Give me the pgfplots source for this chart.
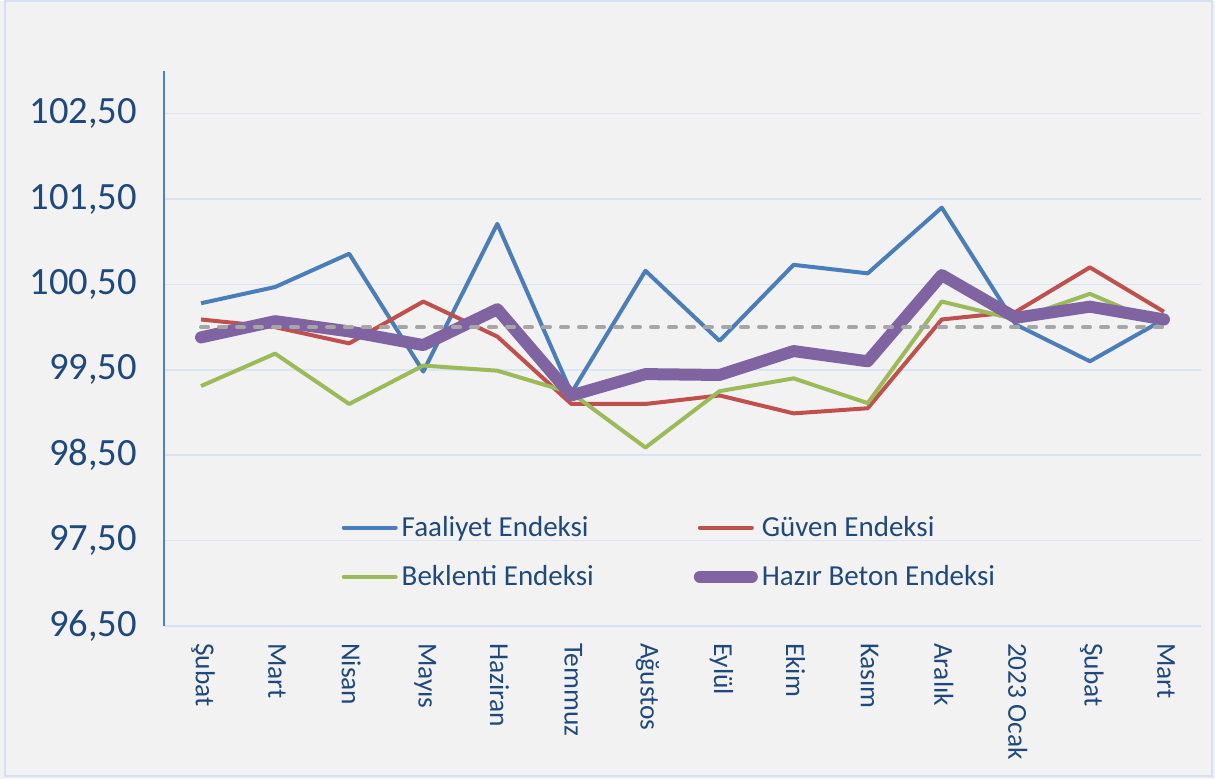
\documentclass[border=0pt]{standalone}
\usepackage{pgfplots}
\pgfplotsset{compat=1.18}
\usepackage{fontspec}
\setmainfont{Carlito}
\definecolor{txt}{HTML}{1F497D}
\definecolor{bgc}{HTML}{F2F2F2}
\definecolor{brd}{HTML}{D4E1F2}
\definecolor{gridc}{HTML}{D9E5F3}
\definecolor{axblue}{HTML}{4F81BD}
\definecolor{cblue}{HTML}{4A7EBB}
\definecolor{cred}{HTML}{C0504D}
\definecolor{cgreen}{HTML}{9BBB59}
\definecolor{cpurple}{HTML}{8064A2}
\definecolor{cgray}{HTML}{A6A6A6}
\begin{document}
\begin{tikzpicture}
\fill[bgc] (0,0) rectangle (607.5pt,389pt);
\draw[brd, line width=1pt] (2.5pt,1.5pt) rectangle (606pt,389pt);
\begin{axis}[
  at={(82pt,76.5pt)}, anchor=south west,
  scale only axis, width=518.5pt, height=277.5pt,
  xmin=-0.5, xmax=13.5, ymin=96.5, ymax=103,
  axis x line*=bottom, axis y line*=left,
  x axis line style={draw=brd, line width=1.2pt},
  y axis line style={draw=axblue, line width=1pt},
  xtick={0,...,13},
  xticklabels={Şubat,Mart,Nisan,Mayıs,Haziran,Temmuz,Ağustos,Eylül,Ekim,Kasım,Aralık,2023 Ocak,Şubat,Mart},
  xticklabel style={yshift=-5pt, xshift=1pt, rotate=-90, anchor=west, font=\fontsize{13.7}{15}\selectfont, text=txt},
  x tick style={draw=none},
  extra x ticks={-0.5,0.5,...,13.5},
  extra x tick labels={},
  extra x tick style={tick align=outside, major tick length=4.5pt, tick style={draw=brd, line width=1pt}},
  ytick={96.5,97.5,...,102.5},
  yticklabels={{96,50},{97,50},{98,50},{99,50},{100,50},{101,50},{102,50}},
  yticklabel style={font=\fontsize{19.3}{21}\selectfont, text=txt, xshift=-10pt},
  y tick style={draw=none},
  ymajorgrids, grid style={draw=gridc, line width=0.8pt},
  legend style={at={(0.171,0.206)}, anchor=north west, draw=none, fill=none, inner sep=0pt,
    font=\fontsize{14.5}{16}\selectfont, text=txt, row sep=9pt,
    /tikz/every even column/.append style={column sep=48pt}},
  legend columns=2, legend cell align=left,
  legend image code/.code={\draw[#1, line cap=round] (0pt,0pt) -- (26pt,0pt);},
  every legend image post/.append style={xshift=-2pt},
]
\addplot[cblue, line width=2pt, line join=round] coordinates {
(0,100.28) (1,100.47) (2,100.86) (3,99.48) (4,101.21) (5,99.23) (6,100.66)
(7,99.84) (8,100.73) (9,100.63) (10,101.40) (11,100.03) (12,99.60) (13,100.09)};
\addlegendentry{Faaliyet Endeksi}
\addplot[cred, line width=2pt, line join=round] coordinates {
(0,100.09) (1,100.00) (2,99.81) (3,100.30) (4,99.89) (5,99.10) (6,99.10)
(7,99.20) (8,98.99) (9,99.05) (10,100.09) (11,100.18) (12,100.70) (13,100.18)};
\addlegendentry{Güven Endeksi}
\addplot[cgreen, line width=2pt, line join=round] coordinates {
(0,99.31) (1,99.69) (2,99.10) (3,99.55) (4,99.49) (5,99.23) (6,98.59)
(7,99.25) (8,99.40) (9,99.11) (10,100.30) (11,100.09) (12,100.39) (13,100.02)};
\addlegendentry{Beklenti Endeksi}
\addplot[cpurple, line width=6pt, line join=round, line cap=round] coordinates {
(0,99.88) (1,100.07) (2,99.95) (3,99.79) (4,100.21) (5,99.20) (6,99.45)
(7,99.44) (8,99.72) (9,99.60) (10,100.61) (11,100.11) (12,100.24) (13,100.09)};
\addlegendentry{Hazır Beton Endeksi}
\addplot[cgray, line width=2pt, line cap=round, dash pattern=on 3.5pt off 5.5pt, forget plot] coordinates {
(0,100) (13,100)};
\end{axis}
\end{tikzpicture}
\end{document}
